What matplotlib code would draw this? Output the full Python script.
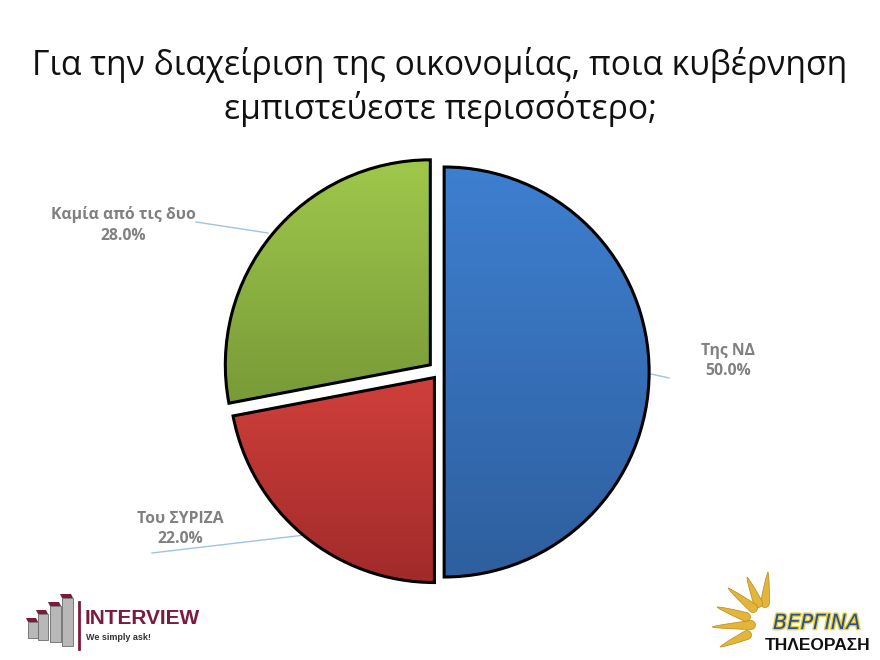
import matplotlib
matplotlib.use("Agg")
import matplotlib.pyplot as plt
import matplotlib.patheffects as pe
import numpy as np
from matplotlib.patches import Polygon, Rectangle
from matplotlib.colors import LinearSegmentedColormap

title = "Για την διαχείριση της οικονομίας, ποια κυβέρνηση\nεμπιστεύεστε περισσότερο;"
labels = ["Της ΝΔ", "Του ΣΥΡΙΖΑ", "Καμία από τις δυο"]
values = [50.0, 22.0, 28.0]
explode = [0.025, 0.035, 0.055]
grad_top = ["#3e7fd0", "#cf3f3b", "#9fc84b"]
grad_bottom = ["#2e5f9e", "#a12b2a", "#789a38"]

W, H = 880, 660
fig = plt.figure(figsize=(8.8, 6.6), dpi=100)
fig.patch.set_facecolor("white")

# overlay axes in pixel coordinates (y downwards)
ov = fig.add_axes([0, 0, 1, 1])
ov.set_xlim(0, W)
ov.set_ylim(H, 0)
ov.axis("off")

fig.text(0.5, 1 - 87 / H, title, ha="center", va="center", fontsize=24.2,
         family="Open Sans", linespacing=1.27, color="#111111")

# pie axes: centre (439, 372) px, radius 205 px
cx, cy, r_px, half = 439, 372, 205, 228
ax = fig.add_axes([(cx - half) / W, (H - cy - half) / H, 2 * half / W, 2 * half / H])
lim = half / r_px
ax.axis("off")

wedges, _ = ax.pie(values, explode=explode, startangle=90, counterclock=False,
                   wedgeprops=dict(edgecolor="black", linewidth=2.2))

for w, c0, c1 in zip(wedges, grad_top, grad_bottom):
    ext = w.get_path().get_extents()
    cmap = LinearSegmentedColormap.from_list("g", [c1, c0])
    grad = np.linspace(0, 1, 256).reshape(-1, 1)
    w.set_facecolor("none")
    im = ax.imshow(grad, cmap=cmap, origin="lower", aspect="auto",
                   extent=(ext.x0, ext.x1, ext.y0, ext.y1), zorder=1)
    im.set_clip_path(w)
    w.set_zorder(2)
ax.set_xlim(-lim, lim)
ax.set_ylim(-lim, lim)

# labels and leader lines
lab_font = dict(fontsize=11.3, fontweight="bold", color="#808080", family="Open Sans",
                ha="center", va="center", linespacing=1.4)
pos = [(728, 361), (180, 529), (123, 225)]
for (x, y), lab, v in zip(pos, labels, values):
    ov.text(x, y, f"{lab}\n{v:.1f}%", **lab_font)
line_c = "#9dc3e6"
ov.plot([651, 669], [374, 378], color=line_c, lw=1)
ov.plot([152, 305], [553, 535], color=line_c, lw=1)
ov.plot([196, 268], [222, 233], color=line_c, lw=1)

# INTERVIEW logo
maroon = "#7a1b3a"
bars = [(28, 622, 10, 16), (38, 614, 10, 26), (50, 606, 11, 36), (62, 598, 11, 48)]
for bx, by, bw, bh in bars:
    ov.add_patch(Rectangle((bx, by), bw, bh, facecolor="#b8b8b8", edgecolor="#6a6a6a", lw=0.6))
    ov.add_patch(Polygon([(bx, by), (bx + bw, by), (bx + bw - 2, by - 4), (bx - 2, by - 4)],
                         closed=True, facecolor=maroon, edgecolor="none"))
ov.plot([79, 79], [602, 649], color=maroon, lw=2)
ov.text(85, 618, "INTERVIEW", fontsize=15, fontweight="bold", color=maroon,
        family="Liberation Sans", va="center", ha="left")
ov.text(86, 637, "We simply ask!", fontsize=6.5, fontweight="bold", color="#333333",
        family="Liberation Sans", va="center", ha="left")

# Vergina logo: tapered rays, pointed outward, rounded near the hub
rays = [((768, 572), (765, 603)), ((747, 577), (758, 603)), ((728, 588), (753, 608)),
        ((717, 607), (746, 617)), ((712, 627), (751, 625)), ((720, 647), (747, 635))]
for tip, base in rays:
    tip = np.array(tip, float)
    base = np.array(base, float)
    d = base - tip
    L = np.hypot(*d)
    u = d / L
    n = np.array([-u[1], u[0]])
    wmax = 4.5
    s = np.linspace(0, 1, 20)
    hw = wmax * s ** 0.7
    left = [tip + d * si + n * h for si, h in zip(s, hw)]
    ang = np.linspace(0, np.pi, 12)
    cap = [base + n * wmax * np.cos(a) + u * wmax * np.sin(a) for a in ang]
    right = [tip + d * si - n * h for si, h in zip(s[::-1], hw[::-1])]
    ov.add_patch(Polygon(left + cap + right, closed=True, facecolor="#e3b53a",
                         edgecolor="#b8891a", lw=0.5))
ov.text(817, 623, "ΒΕΡΓΙΝΑ", fontsize=15, fontstyle="italic", color="#2050b0",
        family="DejaVu Sans", va="center", ha="center",
        path_effects=[pe.withStroke(linewidth=2, foreground="#f0d020")])
ov.text(818, 645, "ΤΗΛΕΟΡΑΣΗ", fontsize=12.5, fontweight="bold", color="#111111",
        family="Liberation Sans", va="center", ha="center")

fig.savefig("out.png", dpi=100, facecolor="white")
